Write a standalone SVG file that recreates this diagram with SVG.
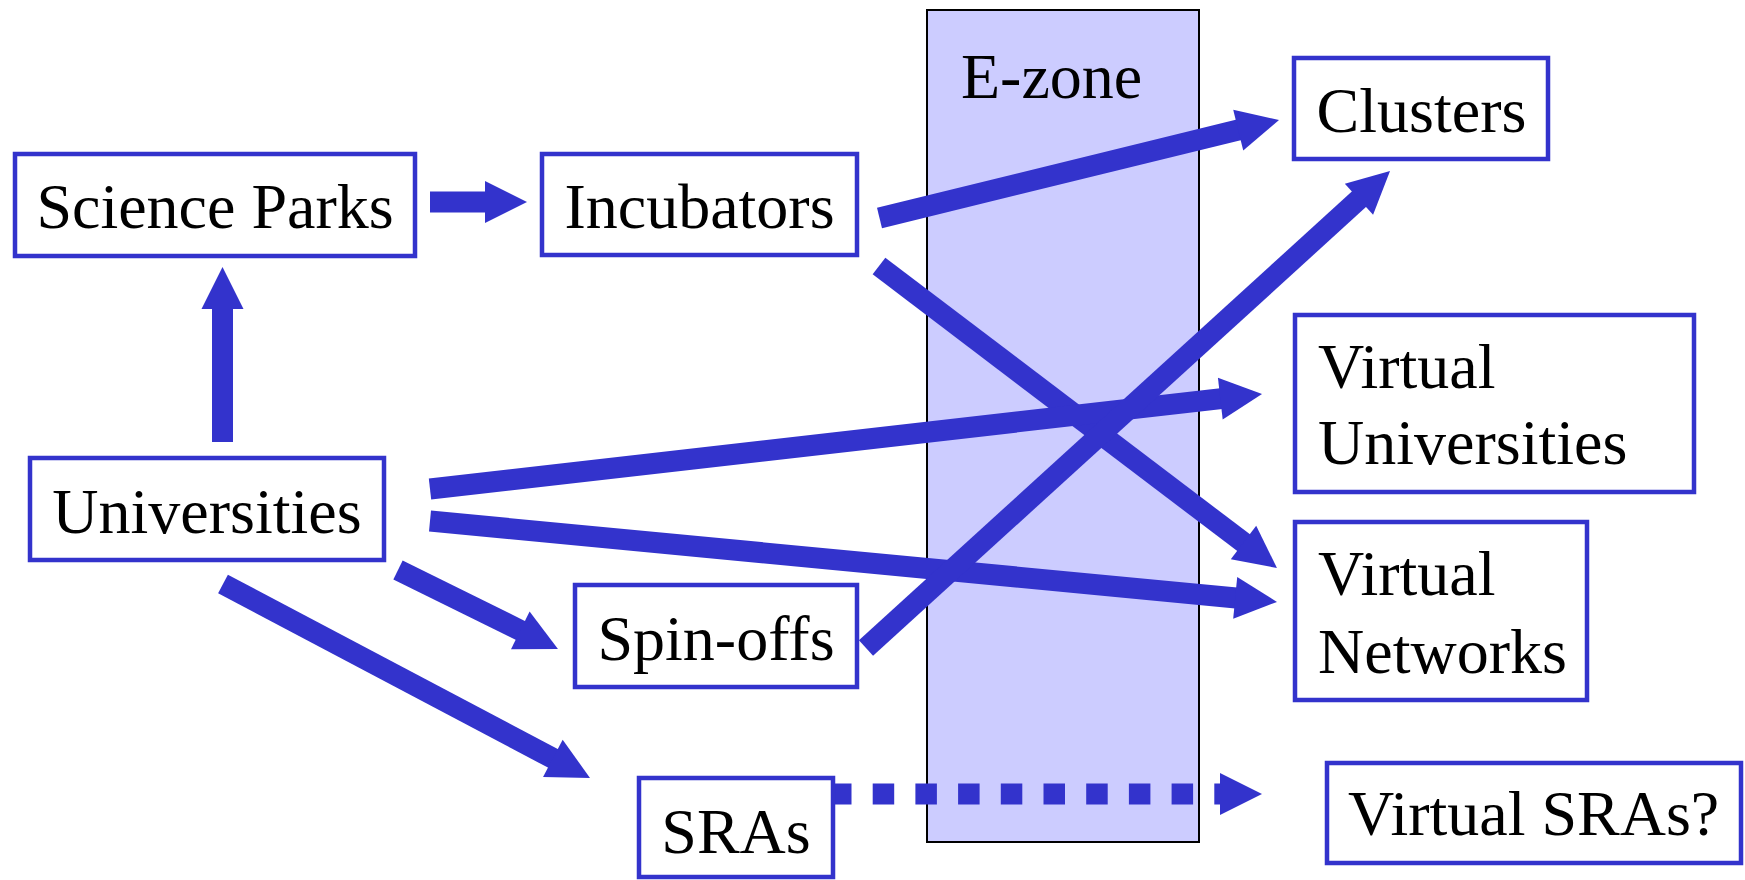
<svg xmlns="http://www.w3.org/2000/svg" width="1745" height="880" viewBox="0 0 1745 880">
  <style>
    .box { fill: #ffffff; stroke: #3333cc; stroke-width: 4.5; }
    .lbl { font-family: "Liberation Serif", "Times New Roman", serif; font-size: 64px; fill: #000000; }
    .mid { text-anchor: middle; }
    .arr { stroke: #3333cc; stroke-width: 21; fill: none; marker-end: url(#ah); }
    .dash { stroke-dasharray: 21.5 21.2; }
  </style>
  <defs>
    <marker id="ah" markerUnits="userSpaceOnUse" viewBox="0 0 42 42" markerWidth="42" markerHeight="42" refX="1" refY="21" orient="auto" overflow="visible">
      <path d="M0,0 L42,21 L0,42 Z" fill="#3333cc"/>
    </marker>
  </defs>
  <rect width="1745" height="880" fill="#ffffff"/>

  <g id="ezone">
    <rect x="927" y="10" width="272" height="832" fill="#ccccff" stroke="#000000" stroke-width="2"/>
    <text class="lbl" x="961" y="98">E-zone</text>
  </g>

  <g id="connectors">
    <line class="arr" x1="430" y1="202" x2="486" y2="202"/>
    <line class="arr" x1="222.5" y1="442" x2="222.5" y2="308"/>
    <line class="arr" x1="879.5" y1="218" x2="1239.2" y2="129.8"/>
    <line class="arr" x1="879" y1="266" x2="1244.3" y2="543.2"/>
    <line class="arr" x1="430" y1="489" x2="1221.3" y2="398.6"/>
    <line class="arr" x1="430" y1="521" x2="1236.2" y2="598"/>
    <line class="arr" x1="866" y1="648" x2="1359.7" y2="198.6"/>
    <line class="arr" x1="398" y1="570" x2="521.2" y2="630.8"/>
    <line class="arr" x1="223" y1="584" x2="553.75" y2="758.8"/>
    <line class="arr dash" x1="830" y1="794" x2="1221" y2="794"/>
  </g>

  <g id="science-parks">
    <rect class="box" x="15" y="154" width="400" height="102"/>
    <text class="lbl mid" x="215" y="228">Science Parks</text>
  </g>
  <g id="incubators">
    <rect class="box" x="542" y="154" width="315" height="101"/>
    <text class="lbl mid" x="699.5" y="228">Incubators</text>
  </g>
  <g id="clusters">
    <rect class="box" x="1294" y="58" width="254" height="101"/>
    <text class="lbl mid" x="1421.5" y="132">Clusters</text>
  </g>
  <g id="virtual-universities">
    <rect class="box" x="1295" y="315" width="399" height="177"/>
    <text class="lbl" x="1318" y="388">Virtual</text>
    <text class="lbl" x="1318" y="464">Universities</text>
  </g>
  <g id="universities">
    <rect class="box" x="30" y="458" width="354" height="102"/>
    <text class="lbl mid" x="207" y="533">Universities</text>
  </g>
  <g id="virtual-networks">
    <rect class="box" x="1295" y="522" width="292" height="178"/>
    <text class="lbl" x="1318" y="595">Virtual</text>
    <text class="lbl" x="1318" y="673">Networks</text>
  </g>
  <g id="spin-offs">
    <rect class="box" x="575" y="585" width="282" height="102"/>
    <text class="lbl mid" x="716" y="660">Spin-offs</text>
  </g>
  <g id="sras">
    <rect class="box" x="639" y="778" width="194" height="99"/>
    <text class="lbl mid" x="736" y="853">SRAs</text>
  </g>
  <g id="virtual-sras">
    <rect class="box" x="1327" y="763" width="414" height="100"/>
    <text class="lbl" x="1348" y="835">Virtual SRAs?</text>
  </g>
</svg>
